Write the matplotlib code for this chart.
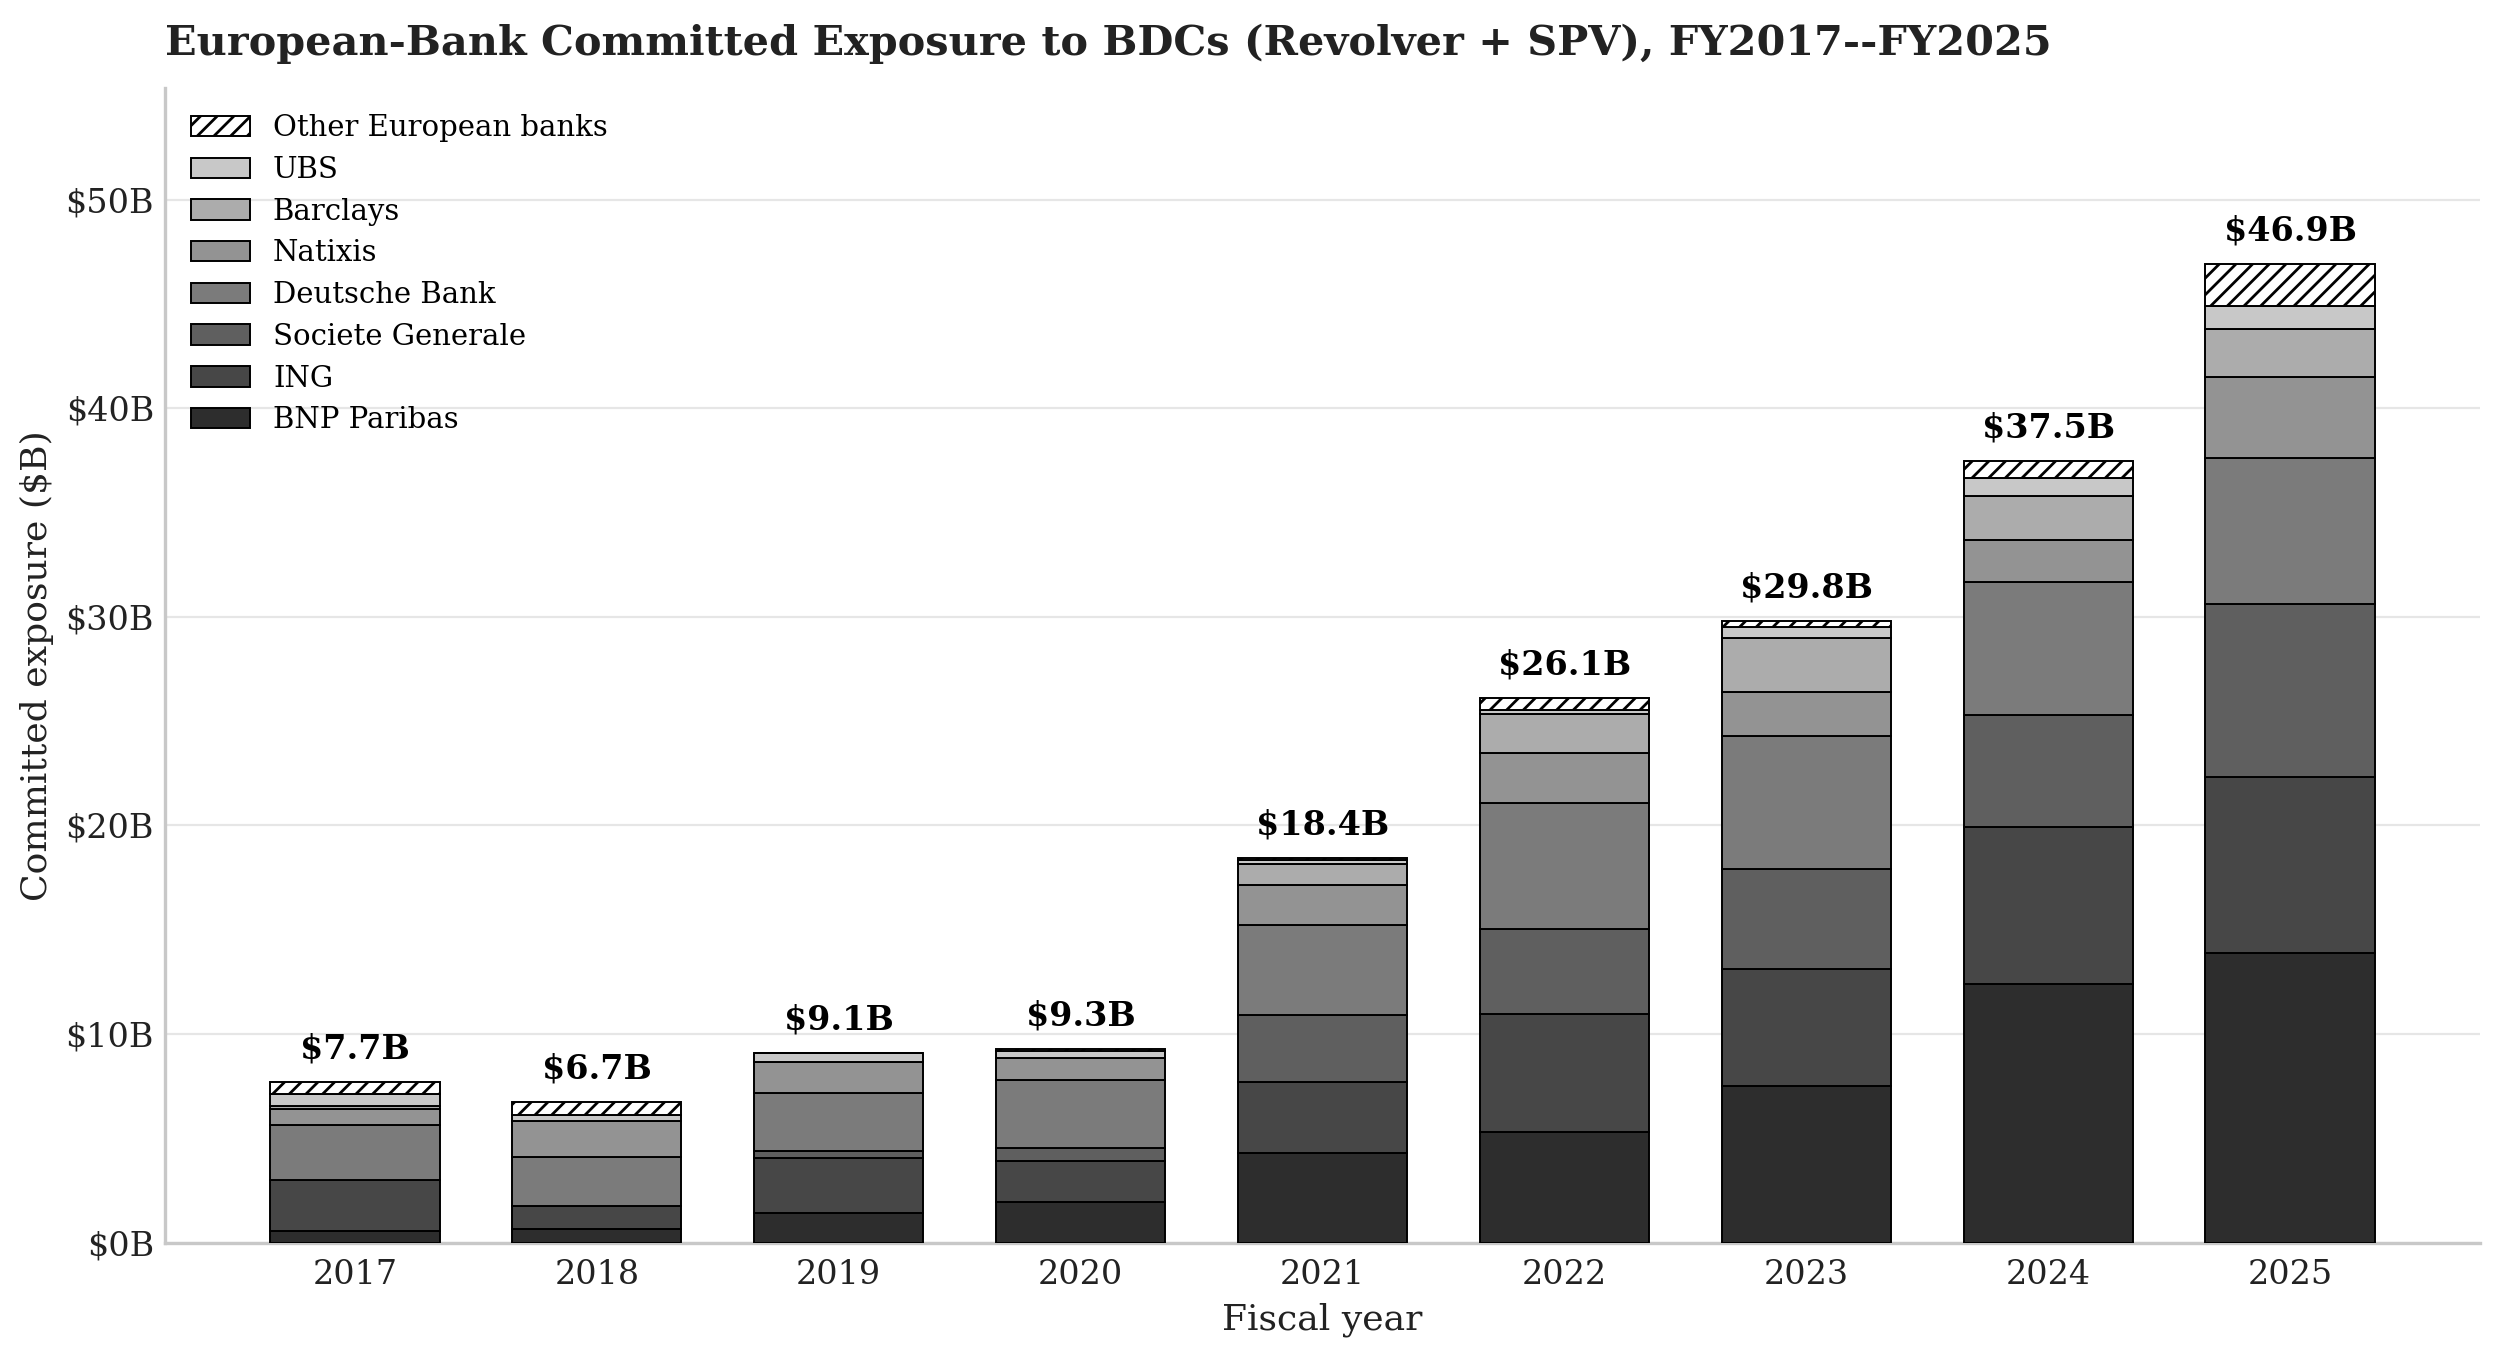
import numpy as np
import matplotlib
matplotlib.use("Agg")
import matplotlib.pyplot as plt
from matplotlib.ticker import FuncFormatter

# 資料：各銀行對 BDC 的承諾曝險（單位：十億美元）
YEARS = ["2017", "2018", "2019", "2020", "2021", "2022", "2023", "2024", "2025"]

BNP_PARIBAS = [0.55, 0.67, 1.42, 1.95, 4.3, 5.3, 7.5, 12.4, 13.9]
ING = [2.45, 1.1, 2.65, 1.97, 3.4, 5.65, 5.6, 7.5, 8.4]
SOCIETE_GENERALE = [0.0, 0.0, 0.3, 0.6, 3.2, 4.1, 4.8, 5.37, 8.3]
DEUTSCHE_BANK = [2.65, 2.35, 2.8, 3.25, 4.33, 6.0, 6.4, 6.4, 7.0]
NATIXIS = [0.75, 1.7, 1.5, 1.1, 1.9, 2.4, 2.1, 2.0, 3.9]
BARCLAYS = [0.15, 0.0, 0.0, 0.0, 1.0, 1.9, 2.6, 2.1, 2.3]
UBS = [0.55, 0.3, 0.4, 0.3, 0.2, 0.2, 0.5, 0.9, 1.1]
OTHER_EU = [0.6, 0.6, 0.0, 0.1, 0.1, 0.55, 0.3, 0.8, 2.0]

SERIES_NAMES = ["BNP Paribas", "ING", "Societe Generale", "Deutsche Bank",
                "Natixis", "Barclays", "UBS", "Other European banks"]

plt.rcParams["font.family"] = ["DejaVu Serif"]

fig = plt.figure(figsize=(12.5, 6.775), dpi=200)
ax = fig.add_axes([0.066, 0.083, 0.926, 0.852])

series = [BNP_PARIBAS, ING, SOCIETE_GENERALE, DEUTSCHE_BANK,
          NATIXIS, BARCLAYS, UBS, OTHER_EU]
colors = ["#2d2d2d", "#474747", "#5f5f5f", "#7b7b7b",
          "#939393", "#acacac", "#c8c8c8", "white"]

x = np.arange(len(YEARS))
bottom = np.zeros(len(YEARS))
for name, vals, col in zip(SERIES_NAMES, series, colors):
    vals = np.array(vals)
    hatch = "////" if name == "Other European banks" else None
    ax.bar(x, vals, width=0.7, bottom=bottom, color=col, edgecolor="black",
           linewidth=0.7, hatch=hatch, label=name, zorder=3)
    bottom += vals

# 每根柱子上方標示總額
for xi, total in zip(x, bottom):
    ax.text(xi, total + 0.8, f"${total:.1f}B", ha="center", va="bottom",
            fontsize=12, fontweight="bold", color="black")

ax.set_xticks(x)
ax.set_xticklabels(YEARS)
ax.set_ylim(0, bottom.max() * 1.18)
ax.yaxis.set_major_formatter(FuncFormatter(lambda v, p: f"${v:.0f}B"))
ax.tick_params(axis="both", length=0, labelsize=12, colors="#222222")
ax.tick_params(axis="x", pad=6)
ax.tick_params(axis="y", pad=4)

ax.grid(axis="y", color="#e6e6e6", linewidth=0.8, zorder=0)
ax.set_axisbelow(True)
for side in ["top", "right"]:
    ax.spines[side].set_visible(False)
for side in ["left", "bottom"]:
    ax.spines[side].set_color("#c8c8c8")
    ax.spines[side].set_linewidth(1.2)

ax.set_xlabel("Fiscal year", fontsize=13, color="#222222")
ax.set_ylabel("Committed exposure ($B)", fontsize=13, color="#222222")
ax.set_title("European-Bank Committed Exposure to BDCs (Revolver + SPV), FY2017--FY2025",
             loc="left", fontsize=14.9, fontweight="bold", color="#222222", pad=12)

handles, labels = ax.get_legend_handles_labels()
ax.legend(handles[::-1], labels[::-1], loc="upper left", frameon=False,
          fontsize=10.5, handlelength=2.0, labelspacing=0.47)

fig.savefig("out.png", dpi=200)
